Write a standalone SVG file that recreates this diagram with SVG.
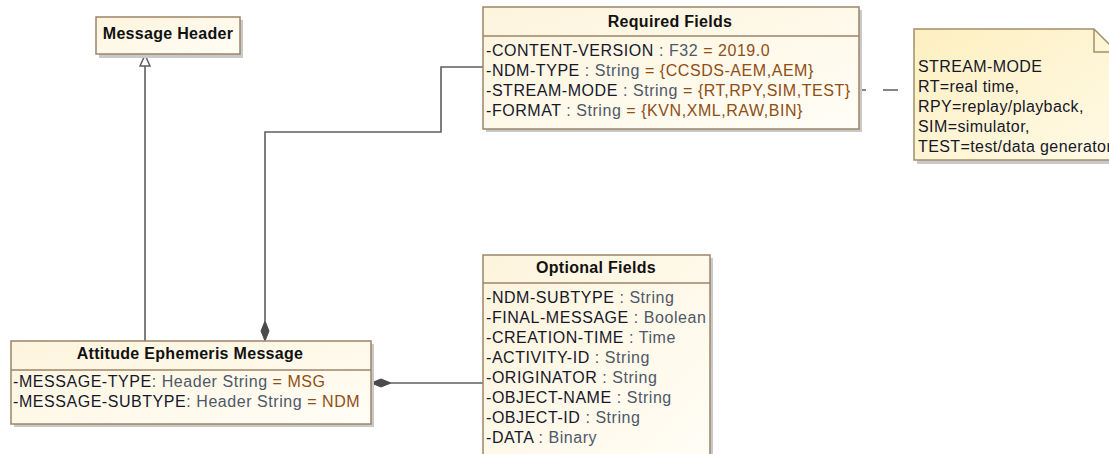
<svg xmlns="http://www.w3.org/2000/svg" width="1109" height="454" viewBox="0 0 1109 454">
<defs>
<linearGradient id="cls" x1="0" y1="0" x2="1" y2="1">
<stop offset="0" stop-color="#fdf4dc"/>
<stop offset="1" stop-color="#fffdf6"/>
</linearGradient>
<linearGradient id="note" x1="0" y1="0" x2="1" y2="1">
<stop offset="0" stop-color="#fdefc0"/>
<stop offset="1" stop-color="#fffae6"/>
</linearGradient>
<style>
.box{fill:url(#cls);stroke:#9c8468;stroke-width:1.5}
.shadow{fill:#c9c9c9}
.sep{stroke:#9c8468;stroke-width:1.5}
text{font-family:"Liberation Sans",Arial,sans-serif;font-size:16px;letter-spacing:0.55px}
.title{font-weight:bold;fill:#111;text-anchor:middle;letter-spacing:0.3px}
.nm{fill:#17172a}
.ty{fill:#4f5868}
.va{fill:#8f4e14}
.ntxt{fill:#17172a;letter-spacing:0.4px}
.conn{fill:none;stroke:#5e5e5e;stroke-width:1.6}
.dia{fill:#4a4a4a;stroke:#4a4a4a;stroke-width:1}
</style>
</defs>

<g id="connectors">
<path class="conn" d="M145,66 V341"/>
<polygon points="145,55 150,66 140,66" fill="#fff" stroke="#5e5e5e" stroke-width="1.5"/>
<path class="conn" d="M265,321 V132 H441 V67 H483"/>
<polygon class="dia" points="265,321 269,331 265,341 261,331"/>
<path class="conn" d="M391,383 H483"/>
<polygon class="dia" points="371,383 381,379 391,383 381,387"/>
<path class="conn" d="M855,90 H914" stroke-dasharray="11 17 15 16"/>
</g>

<g id="message-header">
<rect class="shadow" x="99" y="20" width="144" height="38"/>
<rect class="box" x="96" y="17" width="144" height="37"/>
<text class="title" x="168" y="39">Message Header</text>
</g>

<g id="required-fields">
<rect class="shadow" x="486" y="10" width="376" height="122"/>
<rect class="box" x="483" y="7" width="376" height="122"/>
<line class="sep" x1="483" y1="36" x2="859" y2="36"/>
<text class="title" x="670" y="27">Required Fields</text>
<text x="486" y="56"><tspan class="nm">-CONTENT-VERSION</tspan><tspan class="ty"> : F32 </tspan><tspan class="va">= 2019.0</tspan></text>
<text x="486" y="76"><tspan class="nm">-NDM-TYPE</tspan><tspan class="ty"> : String </tspan><tspan class="va">= {CCSDS-AEM,AEM}</tspan></text>
<text x="486" y="96"><tspan class="nm">-STREAM-MODE</tspan><tspan class="ty"> : String </tspan><tspan class="va">= {RT,RPY,SIM,TEST}</tspan></text>
<text x="486" y="116"><tspan class="nm">-FORMAT</tspan><tspan class="ty"> : String </tspan><tspan class="va">= {KVN,XML,RAW,BIN}</tspan></text>
</g>

<g id="stream-mode-note">
<polygon class="shadow" points="917,33 1098,33 1121,56 1121,164 917,164"/>
<polygon points="914,29 1094,29 1117,52 1117,160 914,160" fill="url(#note)" stroke="#a0906a" stroke-width="1.5"/>
<polyline points="1094,29 1094,52 1117,52" fill="none" stroke="#a0906a" stroke-width="1.5"/>
<text class="ntxt" x="918" y="72">STREAM-MODE</text>
<text class="ntxt" x="918" y="92">RT=real time,</text>
<text class="ntxt" x="918" y="112">RPY=replay/playback,</text>
<text class="ntxt" x="918" y="132">SIM=simulator,</text>
<text class="ntxt" x="918" y="152">TEST=test/data generator</text>
</g>

<g id="attitude-ephemeris-message">
<rect class="shadow" x="14" y="344" width="360" height="83"/>
<rect class="box" x="11" y="341" width="360" height="83"/>
<line class="sep" x1="11" y1="370" x2="371" y2="370"/>
<text class="title" x="190" y="359">Attitude Ephemeris Message</text>
<text x="13" y="387"><tspan class="nm">-MESSAGE-TYPE</tspan><tspan class="ty">: Header String </tspan><tspan class="va">= MSG</tspan></text>
<text x="13" y="407"><tspan class="nm">-MESSAGE-SUBTYPE</tspan><tspan class="ty">: Header String </tspan><tspan class="va">= NDM</tspan></text>
</g>

<g id="optional-fields">
<rect class="shadow" x="486" y="258" width="227" height="210"/>
<rect class="box" x="483" y="255" width="227" height="210"/>
<line class="sep" x1="483" y1="283" x2="710" y2="283"/>
<text class="title" x="596" y="273">Optional Fields</text>
<text x="486" y="303"><tspan class="nm">-NDM-SUBTYPE</tspan><tspan class="ty"> : String</tspan></text>
<text x="486" y="323"><tspan class="nm">-FINAL-MESSAGE</tspan><tspan class="ty"> : Boolean</tspan></text>
<text x="486" y="343"><tspan class="nm">-CREATION-TIME</tspan><tspan class="ty"> : Time</tspan></text>
<text x="486" y="363"><tspan class="nm">-ACTIVITY-ID</tspan><tspan class="ty"> : String</tspan></text>
<text x="486" y="383"><tspan class="nm">-ORIGINATOR</tspan><tspan class="ty"> : String</tspan></text>
<text x="486" y="403"><tspan class="nm">-OBJECT-NAME</tspan><tspan class="ty"> : String</tspan></text>
<text x="486" y="423"><tspan class="nm">-OBJECT-ID</tspan><tspan class="ty"> : String</tspan></text>
<text x="486" y="443"><tspan class="nm">-DATA</tspan><tspan class="ty"> : Binary</tspan></text>
</g>
</svg>
